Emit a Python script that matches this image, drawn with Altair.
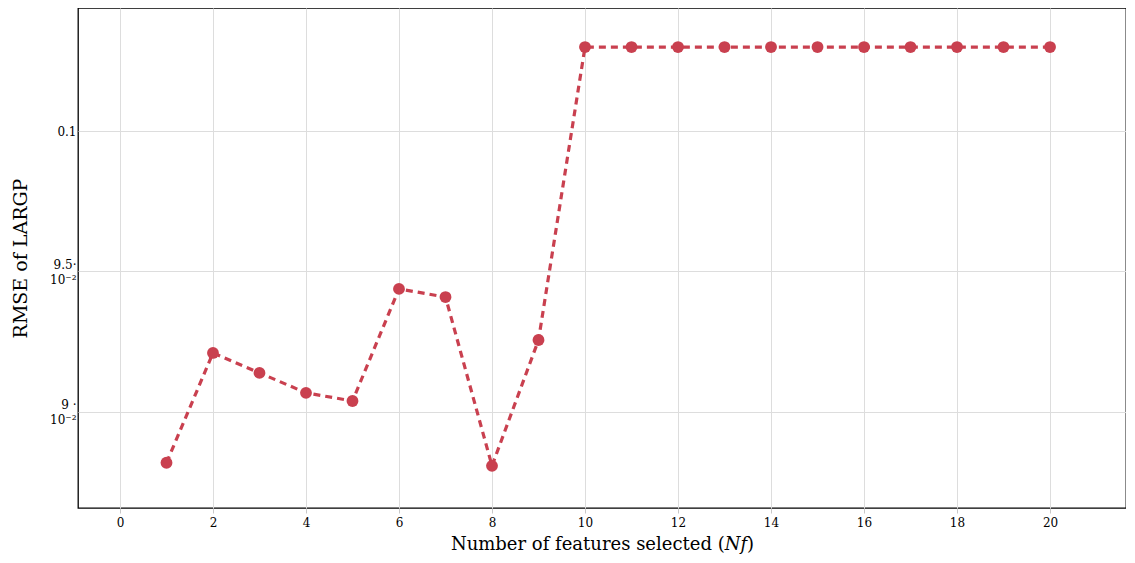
import altair as alt
import pandas as pd

n_features = list(range(1, 21))
rmse = [0.08819, 0.09210, 0.09139, 0.09068, 0.09039, 0.09438, 0.09409, 0.08808, 0.09256,
        0.10299, 0.10299, 0.10299, 0.10299, 0.10299, 0.10299, 0.10299, 0.10299, 0.10299, 0.10299, 0.10299]

y_ticks = [0.09, 0.095, 0.1]
x_ticks = list(range(0, 21, 2))

df = pd.DataFrame({"n": n_features, "rmse": rmse})

color = "#C9404F"
font = "DejaVu Serif"

x = alt.X("n:Q", scale=alt.Scale(domain=[-0.903, 21.634], nice=False, zero=False),
          axis=alt.Axis(values=x_ticks, title="Number of features selected (𝑁𝑓)",
                        titleFontSize=18, titleFont=font, titleFontWeight="normal",
                        titleColor="black", titlePadding=7,
                        labelFont=font, labelFontSize=12, labelColor="black", labelPadding=4,
                        tickColor="#c8c8c8", tickSize=5, domain=False,
                        gridColor="#dddddd", gridWidth=1))
y = alt.Y("rmse:Q", scale=alt.Scale(domain=[0.08658, 0.10438], nice=False, zero=False),
          axis=alt.Axis(values=y_ticks, title="RMSE of LARGP",
                        titleFontSize=19, titleFont=font, titleFontWeight="normal",
                        titleColor="black", titleX=-58, titleY=250, titleBaseline="middle",
                        labelFont=font, labelFontSize=12, labelColor="black", labelPadding=2,
                        labelLineHeight=15,
                        labelOffset={"condition": {"test": "datum.value < 0.099", "value": -7}, "value": 0},
                        labelExpr="datum.value > 0.099 ? '0.1' : (datum.value > 0.094 ? ['9.5·', '10⁻²'] : ['9 ·', '10⁻²'])",
                        ticks=False, domain=False,
                        gridColor="#dddddd", gridWidth=1))

line = alt.Chart(df).mark_line(color=color, strokeWidth=3.2, strokeDash=[7, 5]).encode(x=x, y=y)
pts = alt.Chart(df).mark_circle(color=color, size=140, opacity=1).encode(x="n:Q", y="rmse:Q")

chart = (line + pts).properties(
    width=1048, height=500,
    background="white",
    autosize=alt.AutoSizeParams(type="none"),
    padding={"left": 70, "top": 0, "right": 0, "bottom": 47},
).configure_view(stroke="black", strokeWidth=1.3)

chart.save("out.html", embed_options={"renderer": "svg", "actions": False})
